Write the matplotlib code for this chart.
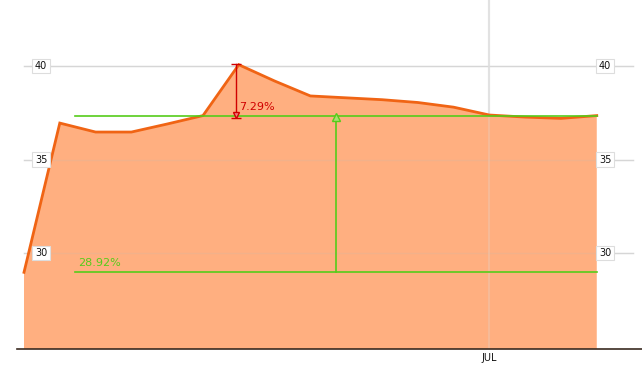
import matplotlib
matplotlib.use("Agg")
import matplotlib.pyplot as plt
import matplotlib.dates as mdates
import numpy as np
import pandas as pd

# Data (weekly)
dates = pd.date_range("2013-04-01", periods=17, freq="7D")
values = [28.97, 36.95, 36.47, 36.47, 36.90, 37.35, 40.07, 39.20, 38.40,
          38.30, 38.20, 38.05, 37.80, 37.38, 37.27, 37.20, 37.35]
yticks = [30, 35, 40]
month_ticks = ["2013-07-01"]
month_labels = ["JUL"]
base_level = 37.35
low_level = 28.97
rise_label = "7.29%"
drop_label = "28.92%"

W, H = 642, 365
fig = plt.figure(figsize=(W / 100, H / 100), dpi=100)
ax = fig.add_axes([17 / W, 16 / H, 625 / W, 349 / H])

line_c = "#f06414"
fill_c = "#ffaf80"
green = "#55cc1a"
red = "#d00000"

x = mdates.date2num(dates)
ax.fill_between(x, values, 0, color=fill_c, lw=0, zorder=2)
ax.plot(x, values, color=line_c, lw=2, zorder=3, solid_joinstyle="miter")

day = 1.0
xmin = x[0] - 7 / 5.114
xmax = x[0] + (642 - 24) / 5.114
ax.set_xlim(xmin, xmax)
ax.set_ylim(24.87, 43.53)

# gridlines
g_end = x[0] + (633 - 24) / 5.114
for yt in yticks:
    ax.plot([x[0], g_end], [yt, yt], color="#dcdcdc", lw=1, zorder=1)
    ax.plot([x[0], g_end], [yt, yt], color="#bbbbbb", lw=1, alpha=0.18, zorder=2.2)
for mt in month_ticks:
    mx = mdates.date2num(pd.Timestamp(mt))
    ax.axvline(mx, color="#e4e4e4", lw=1.5, zorder=1)
    ax.axvline(mx, color="#dddddd", lw=1.5, alpha=0.25, zorder=2.2)

# boxed y labels
for yt in yticks:
    for px in (41, 605):
        xx = x[0] + (px - 24) / 5.114
        ax.text(xx, yt, str(yt), fontsize=7, ha="center", va="center", color="#111111",
                zorder=6, bbox=dict(boxstyle="square,pad=0.25", fc="white", ec="#dddddd", lw=0.8))

# month labels
ax.set_xticks([mdates.date2num(pd.Timestamp(m)) for m in month_ticks])
ax.set_xticklabels(month_labels, fontsize=7, color="#111111")
ax.tick_params(axis="x", length=0, pad=3)
ax.set_yticks([])

for s in ("top", "left", "right"):
    ax.spines[s].set_visible(False)
ax.spines["bottom"].set_color("#3a2a20")
ax.spines["bottom"].set_linewidth(1.2)

# green annotation
gx0 = x[0] + 10 * day
ax.plot([gx0, x[-1]], [base_level, base_level], color=green, lw=1.2, zorder=4)
ax.plot([gx0, x[-1]], [low_level, low_level], color=green, lw=1.2, zorder=4)
gvx = x[8] + 5 * day
ax.plot([gvx, gvx], [low_level, base_level - 0.15], color=green, lw=1.2, zorder=4)
ax.plot([gvx], [base_level - 0.05], marker="^", ms=6, mfc="#a8e070", mec=green, mew=1, zorder=5)
ax.text(gx0 + 0.5, low_level + 0.25, drop_label, color=green, fontsize=8, ha="left",
        va="bottom", zorder=5)

# red annotation
peak = max(values)
rx = x[6] - 0.5
ax.plot([rx, rx], [base_level - 0.1, peak + 0.05], color=red, lw=1, zorder=5)
ax.plot([rx], [peak + 0.05], marker="_", ms=7, mew=1, color=red, zorder=5)
ax.plot([rx], [base_level + 0.02], marker="v", ms=5, mfc="#f08080", mec=red, mew=1, zorder=5)
ax.plot([rx], [base_level - 0.12], marker="_", ms=7, mew=1, color=red, zorder=5)
ax.text(rx + 0.5, base_level + 0.2, rise_label, color=red, fontsize=8, ha="left",
        va="bottom", zorder=5)

fig.savefig("out.png", dpi=100)
